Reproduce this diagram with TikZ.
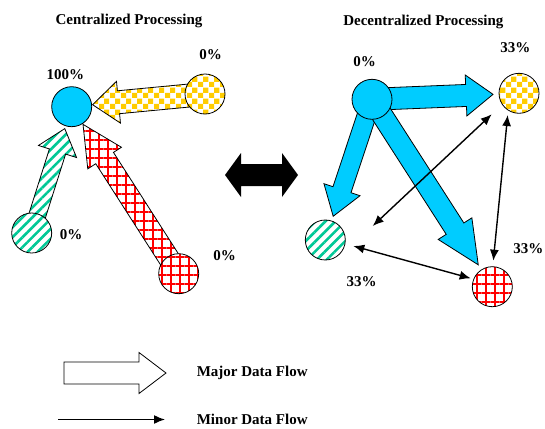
\documentclass[tikz,border=0pt]{standalone}
\usepackage{fontspec}
\setmainfont{Liberation Serif}
\usepackage{tikz}
\usetikzlibrary{calc}
\usetikzlibrary{backgrounds}
\usetikzlibrary{arrows.meta}
\usetikzlibrary{patterns.meta}

\definecolor{hubblue}{RGB}{0,204,255}
\definecolor{chkyellow}{RGB}{255,204,0}
\definecolor{stripegreen}{RGB}{0,200,150}

\tikzdeclarepattern{
  name=checks,
  type=uncolored,
  bounding box={(0pt,0pt) and (11pt,11pt)},
  tile size={(11pt,11pt)},
  code={
    \fill (0pt,0pt) rectangle (5.5pt,5.5pt);
    \fill (5.5pt,5.5pt) rectangle (11pt,11pt);
  }
}

\begin{document}
\begin{tikzpicture}[x=1pt,y=-1pt,line join=miter]

			\tikzstyle{every node}=[font=\bfseries\fontsize{15}{18}\selectfont]
			\tikzset{
				site/.style={circle,draw,line width=0.8pt,minimum size=40pt,inner sep=0pt},
				hub/.style={site,fill=hubblue},
				chk/.style={preaction={fill=white},pattern=checks,pattern color=chkyellow},
				stripes/.style={preaction={fill=white},pattern={Lines[angle=45,distance=7pt,line width=2.6pt]},pattern color=stripegreen},
				redgrid/.style={preaction={fill=white},pattern={Hatch[angle=0,distance=9pt,line width=1.2pt]},pattern color=red},
				fat/.style={draw,line width=0.8pt},
				minor/.style={line width=1.4pt,{Latex[length=11pt,width=9pt]}-{Latex[length=11pt,width=9pt]}}
			}
			% fat arrow: style, from, to, gap, half shaft, half head, head length
			\def\flow#1#2#3#4#5#6#7{
				\coordinate (tp) at ($(#3.center)!#4!(#2.center)$);
				\coordinate (hb) at ($(tp)!#7!(#2.center)$);
				\draw[fat,#1] ($(#2.center)!#5!90:(tp)$) -- ($(hb)!#5!90:(tp)$) -- ($(hb)!#6!90:(tp)$) -- (tp)
					-- ($(hb)!#6!-90:(tp)$) -- ($(hb)!#5!-90:(tp)$) -- ($(#2.center)!#5!-90:(tp)$) -- cycle;
			}

			\useasboundingbox (0,0) rectangle (545,428);

			% centralized
			\node[hub] (c0) at (71.7,106.7) {};
			\node[site,chk] (c1) at (205,94) {};
			\node[site,stripes] (c2) at (31.7,233) {};
			\node[site,redgrid] (c3) at (178.7,273.7) {};

			% decentralized
			\node[hub] (d0) at (372,99.3) {};
			\node[site,chk] (d1) at (519,93.3) {};
			\node[site,stripes] (d2) at (325.3,240) {};
			\node[site,redgrid] (d3) at (492.3,286.7) {};

			\begin{scope}[on background layer]
				\flow{chk}{c1}{c0}{21pt}{11.5pt}{21pt}{26pt}
				\flow{stripes}{c2}{c0}{23pt}{8.5pt}{20pt}{24pt}
				\flow{redgrid}{c3}{c0}{21pt}{10.5pt}{20pt}{40pt}
				\flow{fill=hubblue}{d0}{d1}{26pt}{11pt}{20.5pt}{27pt}
				\flow{fill=hubblue}{d0}{d2}{25pt}{9.5pt}{19pt}{28pt}
				\flow{fill=hubblue}{d0}{d3}{26pt}{10.5pt}{20pt}{43pt}
			\end{scope}

			% minor flows
			\coordinate (gy1) at (372.7,226);
			\coordinate (gy2) at (491.7,114.3);
			\coordinate (gr1) at (353.3,246);
			\coordinate (gr2) at (470.7,278.3);
			\coordinate (yr1) at (507.7,115);
			\coordinate (yr2) at (493.3,260.7);
			\draw[minor] (gy1) -- (gy2);
			\draw[minor] (gr1) -- (gr2);
			\draw[minor] (yr1) -- (yr2);

			% switch arrow
			\fill (225,175) -- (241,153) -- (241,164) -- (282,164) -- (282,153) -- (298,175)
				-- (282,197) -- (282,186) -- (241,186) -- (241,197) -- cycle;

			% labels
			\node (ct) at (129,21.3) {Centralized Processing};
			\node (dt) at (423.3,21.7) {Decentralized Processing};
			\node (c0l) at (65.3,75) {100\%};
			\node (c1l) at (210.7,54.7) {0\%};
			\node (c2l) at (71.2,234.7) {0\%};
			\node (c3l) at (224.5,255.3) {0\%};
			\node (d0l) at (364.7,62) {0\%};
			\node (d1l) at (515.3,48) {33\%};
			\node (d3l) at (528.3,248.3) {33\%};
			\node (d2l) at (361.7,281.7) {33\%};

			% legend
			\coordinate (la) at (64,373);
			\coordinate (lb) at (166,373);
			\flow{fill=white}{la}{lb}{0pt}{11pt}{20.5pt}{27pt}
			\coordinate (lc) at (58,419.5);
			\coordinate (ld) at (165,419.5);
			\draw[line width=1.4pt,-{Latex[length=11pt,width=9pt]}] (lc) -- (ld);
			\node[anchor=west] (majl) at (193.3,373.3) {Major Data Flow};
			\node[anchor=west] (minl) at (193.3,419.5) {Minor Data Flow};
\end{tikzpicture}
\end{document}
